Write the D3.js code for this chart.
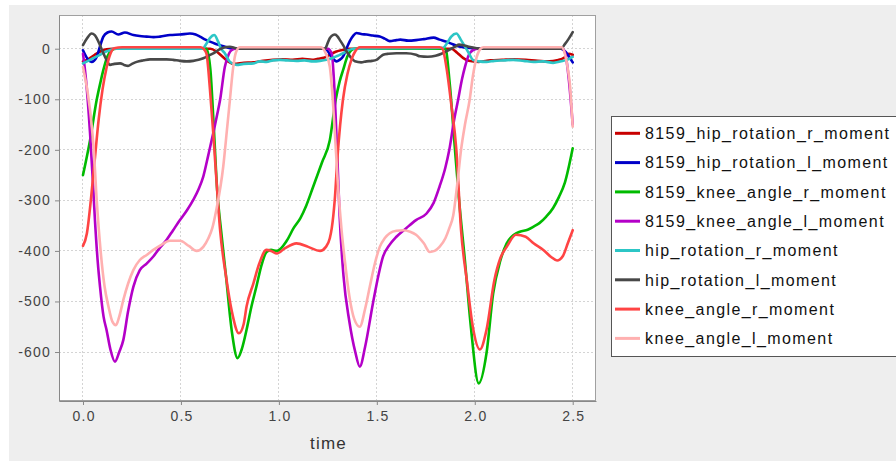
<!DOCTYPE html>
<html><head><meta charset="utf-8">
<script src="https://cdn.jsdelivr.net/npm/d3@7/dist/d3.min.js"></script>
<style>
body{margin:0;background:#fff;}
svg{display:block;font-family:"Liberation Sans",Arial,sans-serif;}
</style>
</head><body><svg id="chart" width="896" height="461"></svg>
<script>
// ---------------- data ----------------
const seriesNames = [
  "8159_hip_rotation_r_moment","8159_hip_rotation_l_moment","8159_knee_angle_r_moment",
  "8159_knee_angle_l_moment","hip_rotation_r_moment","hip_rotation_l_moment",
  "knee_angle_r_moment","knee_angle_l_moment"];
const seriesColors = ["#c80000","#0000c8","#00bb00","#b400c8","#2cc6c6","#484848","#ff4444","#ffb0b0"];
const xTicks = [0, 0.5, 1.0, 1.5, 2.0, 2.5];
const yTicks = [0, -100, -200, -300, -400, -500, -600];
const xLabel = "time";

const hipRotR8159 = [[0,-25],[0.03,-20],[0.06,-12],[0.09,-5],[0.12,-1],[0.15,0],[0.65,0],[0.68,-5],[0.71,-15],[0.74,-25],[0.77,-30],[0.82,-28],[0.87,-27],[0.92,-24],[0.97,-22],[1.02,-21],[1.07,-22],[1.12,-20],[1.17,-22],[1.2,-20],[1.23,-18],[1.26,-12],[1.29,-6],[1.33,-2],[1.36,0],[1.88,0],[1.91,-8],[1.94,-18],[1.97,-24],[2.02,-26],[2.08,-23],[2.14,-22],[2.2,-21],[2.26,-22],[2.32,-24],[2.38,-25],[2.42,-23],[2.46,-17],[2.48,-10],[2.5,-12]];
const hipRotL8159 = [[0,-3],[0.027,-22],[0.044,-26],[0.07,-16],[0.087,5],[0.104,24],[0.125,32],[0.146,34],[0.18,28],[0.214,32],[0.257,27],[0.29,25],[0.325,24],[0.36,23],[0.393,24],[0.444,27],[0.495,28],[0.546,30],[0.575,28],[0.597,24],[0.625,18],[0.648,14],[0.675,10],[0.70,7],[0.75,1],[0.8,0],[1.23,0],[1.243,-2],[1.268,-15],[1.294,-25],[1.31,-22],[1.328,-15],[1.345,0],[1.362,15],[1.38,26],[1.396,31],[1.42,29],[1.447,28],[1.48,26],[1.515,24],[1.54,20],[1.566,15],[1.6,17],[1.62,18],[1.66,16],[1.70,17],[1.74,19],[1.79,22],[1.82,18],[1.855,14],[1.88,10],[1.906,6],[1.94,3],[1.99,1],[2.02,0],[2.44,0],[2.46,-5],[2.47,-9],[2.485,-18],[2.5,-27]];
const kneeR8159 = [[0,-250],[0.036,-181],[0.07,-101],[0.09,-65],[0.104,-42],[0.125,-15],[0.147,-3],[0.17,0],[0.63,0],[0.65,-40],[0.667,-150],[0.685,-280],[0.705,-360],[0.73,-450],[0.76,-560],[0.789,-612],[0.81,-595],[0.835,-556],[0.86,-510],[0.885,-471],[0.91,-430],[0.937,-402],[0.96,-398],[0.99,-400],[1.04,-380],[1.075,-355],[1.11,-335],[1.14,-310],[1.175,-273],[1.22,-225],[1.26,-181],[1.29,-101],[1.31,-65],[1.328,-42],[1.35,-15],[1.37,-3],[1.39,0],[1.85,0],[1.872,-68],[1.895,-180],[1.92,-300],[1.95,-420],[1.98,-550],[2.02,-662],[2.06,-602],[2.094,-484],[2.13,-420],[2.163,-385],[2.2,-368],[2.23,-362],[2.27,-358],[2.30,-352],[2.33,-345],[2.365,-332],[2.40,-315],[2.43,-293],[2.46,-265],[2.5,-197]];
const kneeL8159 = [[0,-10],[0.015,-60],[0.036,-167],[0.05,-260],[0.061,-339],[0.075,-420],[0.087,-471],[0.105,-530],[0.12,-556],[0.14,-595],[0.163,-619],[0.185,-600],[0.206,-576],[0.23,-520],[0.257,-471],[0.29,-438],[0.325,-425],[0.359,-411],[0.39,-395],[0.427,-378],[0.46,-359],[0.495,-339],[0.53,-320],[0.563,-299],[0.59,-278],[0.614,-253],[0.64,-210],[0.665,-167],[0.685,-130],[0.70,-101],[0.724,-36],[0.745,-10],[0.758,-3],[0.78,0],[1.25,0],[1.27,-10],[1.285,-90],[1.30,-230],[1.31,-330],[1.33,-450],[1.36,-540],[1.39,-600],[1.413,-629],[1.44,-590],[1.48,-504],[1.51,-445],[1.532,-411],[1.565,-388],[1.60,-372],[1.65,-355],[1.70,-339],[1.754,-326],[1.79,-305],[1.82,-273],[1.85,-235],[1.87,-200],[1.895,-140],[1.915,-101],[1.935,-60],[1.95,-36],[1.97,-12],[1.99,-3],[2.02,0],[2.45,0],[2.465,-15],[2.48,-60],[2.5,-150]];
const hipRotR = [[0,-29],[0.036,-22],[0.06,-17],[0.087,-12],[0.11,-7],[0.138,-3],[0.16,0],[0.61,0],[0.63,10],[0.648,21],[0.67,27],[0.69,14],[0.705,0],[0.724,-9],[0.75,-26],[0.784,-32],[0.82,-30],[0.87,-29],[0.903,-25],[0.937,-26],[0.97,-23],[1.005,-22],[1.04,-23],[1.09,-24],[1.13,-23],[1.175,-25],[1.21,-24],[1.243,-22],[1.277,-18],[1.30,-14],[1.328,-9],[1.355,-3],[1.38,0],[1.838,2],[1.86,12],[1.88,24],[1.906,30],[1.93,17],[1.95,4],[1.97,-9],[1.99,-22],[2.02,-25],[2.06,-26],[2.1,-24],[2.15,-23],[2.196,-22],[2.25,-24],[2.30,-26],[2.35,-25],[2.40,-28],[2.44,-25],[2.47,-22],[2.5,-16]];
const hipRotL = [[0,7],[0.02,20],[0.044,30],[0.06,27],[0.07,21],[0.087,7],[0.104,-9],[0.12,-22],[0.138,-32],[0.16,-30],[0.19,-29],[0.21,-32],[0.23,-34],[0.25,-30],[0.274,-26],[0.31,-23],[0.342,-21],[0.38,-21],[0.427,-21],[0.46,-22],[0.495,-24],[0.53,-25],[0.563,-24],[0.59,-22],[0.614,-19],[0.64,-14],[0.665,-9],[0.69,-3],[0.716,2],[0.75,4],[0.78,1],[0.8,0],[1.235,0],[1.25,12],[1.26,21],[1.275,27],[1.286,28],[1.3,24],[1.31,18],[1.328,7],[1.345,-5],[1.365,-16],[1.388,-25],[1.42,-27],[1.447,-25],[1.475,-24],[1.498,-22],[1.515,-17],[1.532,-12],[1.56,-10],[1.60,-9],[1.65,-9],[1.70,-12],[1.72,-15],[1.76,-16],[1.80,-14],[1.83,-10],[1.855,-5],[1.87,-2],[1.9,4],[1.92,8],[1.94,7],[1.97,4],[2.01,1],[2.03,0],[2.44,0],[2.46,9],[2.48,20],[2.5,33]];
const kneeR = [[0,-390],[0.02,-365],[0.04,-300],[0.06,-220],[0.08,-140],[0.1,-80],[0.12,-38],[0.14,-10],[0.16,1],[0.2,3],[0.6,3],[0.615,0],[0.63,-9],[0.648,-80],[0.665,-167],[0.683,-270],[0.70,-359],[0.73,-450],[0.76,-520],[0.796,-563],[0.82,-545],[0.835,-510],[0.87,-464],[0.90,-425],[0.937,-398],[0.96,-400],[0.99,-405],[1.03,-395],[1.09,-385],[1.15,-392],[1.21,-400],[1.24,-392],[1.26,-375],[1.27,-355],[1.285,-300],[1.30,-210],[1.327,-101],[1.35,-50],[1.37,-22],[1.39,-5],[1.413,3],[1.82,3],[1.835,0],[1.855,-36],[1.88,-110],[1.906,-200],[1.93,-359],[1.96,-460],[1.99,-550],[2.026,-595],[2.06,-556],[2.10,-458],[2.13,-415],[2.163,-392],[2.21,-368],[2.26,-372],[2.3,-385],[2.35,-398],[2.39,-412],[2.42,-419],[2.45,-410],[2.475,-385],[2.5,-359]];
const kneeL = [[0,-36],[0.036,-121],[0.055,-200],[0.07,-299],[0.09,-400],[0.11,-470],[0.13,-510],[0.15,-540],[0.168,-547],[0.185,-530],[0.206,-497],[0.23,-465],[0.257,-438],[0.29,-418],[0.325,-408],[0.359,-398],[0.40,-388],[0.444,-380],[0.495,-380],[0.54,-390],[0.58,-400],[0.614,-392],[0.64,-375],[0.66,-355],[0.68,-320],[0.716,-233],[0.735,-160],[0.75,-101],[0.767,-36],[0.78,-8],[0.8,3],[1.215,3],[1.24,-10],[1.26,-36],[1.275,-100],[1.286,-167],[1.30,-260],[1.32,-359],[1.34,-430],[1.36,-490],[1.385,-535],[1.413,-550],[1.44,-515],[1.464,-471],[1.49,-425],[1.515,-392],[1.54,-375],[1.566,-365],[1.60,-360],[1.634,-359],[1.67,-362],[1.70,-368],[1.74,-385],[1.77,-402],[1.795,-400],[1.82,-392],[1.85,-375],[1.87,-355],[1.89,-330],[1.91,-270],[1.93,-200],[1.95,-150],[1.974,-101],[1.99,-55],[2.01,-16],[2.03,0],[2.045,3],[2.445,3],[2.46,-10],[2.475,-40],[2.485,-68],[2.5,-154]];

const seriesData = [hipRotR8159, hipRotL8159, kneeR8159, kneeL8159, hipRotR, hipRotL, kneeR, kneeL];

// ---------------- layout ----------------
const W = 896, H = 461;
const plot = {left: 59, right: 596, top: 15, bottom: 401};
const svg = d3.select("#chart");

svg.append("rect").attr("x",0).attr("y",0).attr("width",W).attr("height",H).attr("fill","#ffffff");
svg.append("rect").attr("x",9).attr("y",5).attr("width",W-9).attr("height",H-5).attr("fill","#eeeeee");

const x = d3.scaleLinear().domain([-0.1225, 2.6189]).range([plot.left, plot.right]);
const y = d3.scaleLinear().domain([66.7, -696.9]).range([plot.top, plot.bottom]);

svg.append("rect").attr("x",plot.left).attr("y",plot.top)
  .attr("width",plot.right-plot.left).attr("height",plot.bottom-plot.top)
  .attr("fill","#ffffff");

// grid
const grid = svg.append("g");
grid.selectAll("line.vx").data(xTicks).enter().append("line")
  .attr("x1",d=>x(d)).attr("x2",d=>x(d)).attr("y1",plot.top).attr("y2",plot.bottom)
  .attr("stroke","#d4d4d4").attr("stroke-width",1).attr("stroke-dasharray","2,2")
  .attr("shape-rendering","crispEdges");
grid.selectAll("line.hy").data(yTicks).enter().append("line")
  .attr("y1",d=>y(d)).attr("y2",d=>y(d)).attr("x1",plot.left).attr("x2",plot.right)
  .attr("stroke","#d4d4d4").attr("stroke-width",1).attr("stroke-dasharray","2,2")
  .attr("shape-rendering","crispEdges");

// clip
svg.append("clipPath").attr("id","clip").append("rect")
  .attr("x",plot.left).attr("y",plot.top)
  .attr("width",plot.right-plot.left).attr("height",plot.bottom-plot.top);

const line = d3.line().x(d=>x(d[0])).y(d=>y(d[1])).curve(d3.curveMonotoneX);
const lines = svg.append("g").attr("clip-path","url(#clip)");
seriesData.forEach((s,i)=>{
  lines.append("path").datum(s).attr("d",line)
    .attr("fill","none").attr("stroke",seriesColors[i]).attr("stroke-width",2.6)
    .attr("stroke-linejoin","round").attr("stroke-linecap","round");
});

// outline
svg.append("rect").attr("x",plot.left+0.5).attr("y",plot.top+0.5)
  .attr("width",plot.right-plot.left-1).attr("height",plot.bottom-plot.top-1)
  .attr("fill","none").attr("stroke","#a0a0a0").attr("stroke-width",1);

// axes
const xAxis = d3.axisBottom(x).tickValues(xTicks).tickFormat(d3.format(".1f"))
  .tickSize(4).tickSizeOuter(0).tickPadding(6);
const gx = svg.append("g").attr("transform",`translate(0,${plot.bottom})`).call(xAxis);
const yAxis = d3.axisLeft(y).tickValues(yTicks).tickFormat(d=>String(d))
  .tickSize(4).tickSizeOuter(0).tickPadding(5);
const gy = svg.append("g").attr("transform",`translate(${plot.left},0)`).call(yAxis);
[gx,gy].forEach(g=>{
  g.select(".domain").attr("stroke","#888888");
  g.selectAll(".tick line").attr("stroke","#888888");
  g.selectAll(".tick text").attr("fill","#444444")
    .style("font-family",'"Liberation Sans",Arial,sans-serif').style("font-size","14px")
    .style("letter-spacing","1.2px");
});
gx.selectAll(".tick text").attr("dx","0.6px");
gy.selectAll(".tick text").attr("dx","1px");

svg.append("text").attr("x",(plot.left+plot.right)/2+1).attr("y",449)
  .attr("text-anchor","middle").attr("fill","#333333")
  .style("font-size","17px").style("letter-spacing","1.2px").text(xLabel);

// legend
const lg = svg.append("g");
lg.append("rect").attr("x",611.5).attr("y",116.5).attr("width",300).attr("height",240)
  .attr("fill","#ffffff").attr("stroke","#555555").attr("stroke-width",1);
seriesNames.forEach((n,i)=>{
  const cy = 133.3 + i*29.3;
  lg.append("line").attr("x1",615).attr("x2",640).attr("y1",cy).attr("y2",cy)
    .attr("stroke",seriesColors[i]).attr("stroke-width",3);
  lg.append("text").attr("x",645).attr("y",cy).attr("dy","0.36em")
    .attr("fill","#111111").style("font-size","16px").style("letter-spacing","1.4px").text(n);
});
</script>
</body></html>
